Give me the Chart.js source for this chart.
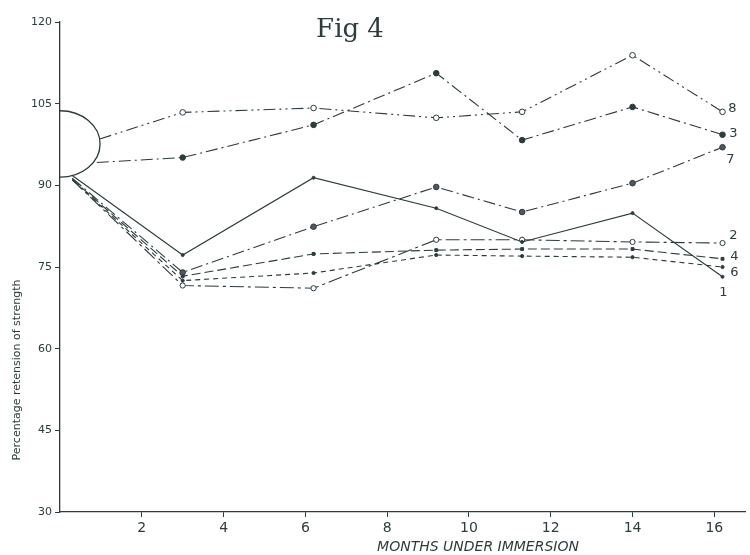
<!DOCTYPE html>
<html>
<head>
<meta charset="utf-8">
<script src="https://cdn.jsdelivr.net/npm/chart.js@4.4.1/dist/chart.umd.min.js"></script>
<style>
  html, body { margin: 0; padding: 0; background: #fff; }
  #wrap { width: 750px; height: 555px; }
</style>
</head>
<body>
<div id="wrap"><canvas id="fig" width="750" height="555"></canvas></div>
<script>
// months under immersion for the plotted readings (first entry = where each line leaves the semicircle)
const months8 = [0.97, 3, 6.2, 9.2, 11.3, 14, 16.2];
const months3 = [0.9, 3, 6.2, 9.2, 11.3, 14, 16.2];
const monthsLow = [0.3, 3, 6.2, 9.2, 11.3, 14, 16.2];

const series8 = [98.5, 103.4, 104.2, 102.4, 103.5, 113.9, 103.5];
const series3 = [94.2, 95.1, 101.1, 110.6, 98.3, 104.4, 99.3];
const series7 = [91.3, 74.0, 82.4, 89.7, 85.1, 90.4, 97.0];
const series1 = [91.8, 77.2, 91.4, 85.8, 79.6, 84.9, 73.2];
const series2 = [91.0, 71.6, 71.1, 80.0, 80.0, 79.6, 79.4];
const series4 = [91.1, 73.3, 77.4, 78.1, 78.3, 78.3, 76.5];
const series6 = [91.0, 72.5, 73.9, 77.2, 77.0, 76.8, 75.0];

const seriesNames = ['8', '3', '7', '1', '2', '4', '6'];
const xTicks = [2, 4, 6, 8, 10, 12, 14, 16];
const yTicks = [30, 45, 60, 75, 90, 105, 120];

// initial strength range drawn as a half circle on the axis
const startTop = 103.7;
const startBottom = 91.5;
const startReach = 0.98;

const INK = '#2c3b3c';

function pts(xs, ys) {
  return xs.map((x, i) => ({ x, y: ys[i] }));
}

function radiusFor(r) {
  return (ctx) => (ctx.dataIndex === 0 ? 0 : r);
}

function makeSet(name, xs, ys, opts) {
  return Object.assign({
    label: name,
    data: pts(xs, ys),
    borderColor: INK,
    backgroundColor: INK,
    pointBorderColor: INK,
    pointBorderWidth: 1,
    borderWidth: 1.1,
    tension: 0,
    fill: false,
  }, opts);
}

const datasets = [
  makeSet(seriesNames[0], months8, series8, {
    borderDash: [12, 4, 2, 4, 2, 4],
    pointStyle: 'circle', pointRadius: radiusFor(2.8), pointBackgroundColor: '#fff',
    labelOffset: [10, -3],
  }),
  makeSet(seriesNames[1], months3, series3, {
    borderDash: [12, 4, 2, 4],
    pointStyle: 'circle', pointRadius: radiusFor(2.8), pointBackgroundColor: INK,
    labelOffset: [11, -1],
  }),
  makeSet(seriesNames[2], monthsLow, series7, {
    borderDash: [12, 4, 2, 4],
    pointStyle: 'circle', pointRadius: radiusFor(2.8), pointBackgroundColor: '#556',
    labelOffset: [8, 12],
  }),
  makeSet(seriesNames[3], monthsLow, series1, {
    borderDash: [],
    pointStyle: 'circle', pointRadius: radiusFor(1.5), pointBackgroundColor: INK,
    labelOffset: [1, 16],
  }),
  makeSet(seriesNames[4], monthsLow, series2, {
    borderDash: [14, 4, 3, 4],
    pointStyle: 'circle', pointRadius: radiusFor(2.6), pointBackgroundColor: '#fff',
    labelOffset: [11, -7],
  }),
  makeSet(seriesNames[5], monthsLow, series4, {
    borderDash: [9, 4],
    pointStyle: 'rect', pointRadius: radiusFor(2), pointBackgroundColor: INK,
    labelOffset: [12, -2],
  }),
  makeSet(seriesNames[6], monthsLow, series6, {
    borderDash: [5, 4],
    pointStyle: 'circle', pointRadius: radiusFor(1.6), pointBackgroundColor: INK,
    labelOffset: [12, 6],
  }),
];

const figureExtras = {
  id: 'figureExtras',
  beforeDatasetsDraw(chart) {
    const { ctx, scales: { x, y } } = chart;
    const x0 = x.getPixelForValue(0);
    const yTop = y.getPixelForValue(startTop);
    const yBot = y.getPixelForValue(startBottom);
    const rx = x.getPixelForValue(startReach) - x0;
    ctx.save();
    ctx.strokeStyle = INK;
    ctx.lineWidth = 1.3;
    ctx.beginPath();
    ctx.ellipse(x0, (yTop + yBot) / 2, rx, (yBot - yTop) / 2, 0, -Math.PI / 2, Math.PI / 2);
    ctx.stroke();
    ctx.restore();
  },
  afterDraw(chart) {
    const { ctx, scales: { x, y } } = chart;
    ctx.save();
    ctx.fillStyle = INK;

    // series numbers beside the last reading
    ctx.font = '13px "DejaVu Sans"';
    ctx.textAlign = 'center';
    ctx.textBaseline = 'middle';
    chart.data.datasets.forEach((ds) => {
      const last = ds.data[ds.data.length - 1];
      const px = x.getPixelForValue(last.x) + ds.labelOffset[0];
      const py = y.getPixelForValue(last.y) + ds.labelOffset[1];
      ctx.fillText(ds.label, px, py);
    });

    // figure caption
    ctx.font = '26px "DejaVu Serif"';
    ctx.fillText('Fig 4', 350, 30);

    // axis titles
    ctx.font = 'italic 14px "DejaVu Sans"';
    ctx.fillText('MONTHS UNDER IMMERSION', 478, 547);

    ctx.translate(17, 370);
    ctx.rotate(-Math.PI / 2);
    ctx.font = '11px "DejaVu Sans"';
    ctx.fillText('Percentage retension of strength', 0, 0);
    ctx.restore();
  },
};

new Chart(document.getElementById('fig'), {
  type: 'line',
  data: { datasets },
  plugins: [figureExtras],
  options: {
    responsive: false,
    animation: false,
    layout: { padding: { top: 22, right: 5, left: 0, bottom: 0 } },
    plugins: {
      legend: { display: false },
      tooltip: { enabled: false },
      title: { display: false },
    },
    scales: {
      x: {
        type: 'linear',
        min: 0,
        max: 16.75,
        afterBuildTicks: (scale) => { scale.ticks = xTicks.map((v) => ({ value: v })); },
        afterFit: (scale) => { scale.height = 43; },
        grid: { drawOnChartArea: false, tickLength: 5, color: INK },
        border: { color: INK, width: 1.2 },
        ticks: { color: INK, padding: 3, font: { family: 'DejaVu Sans', size: 14 } },
      },
      y: {
        type: 'linear',
        min: 30,
        max: 120,
        afterBuildTicks: (scale) => { scale.ticks = yTicks.map((v) => ({ value: v })); },
        afterFit: (scale) => { scale.width = 60; },
        grid: { drawOnChartArea: false, tickLength: 5, color: INK },
        border: { color: INK, width: 1.3 },
        ticks: { color: INK, padding: 3, font: { family: 'DejaVu Sans', size: 11 } },
      },
    },
  },
});
</script>
</body>
</html>
